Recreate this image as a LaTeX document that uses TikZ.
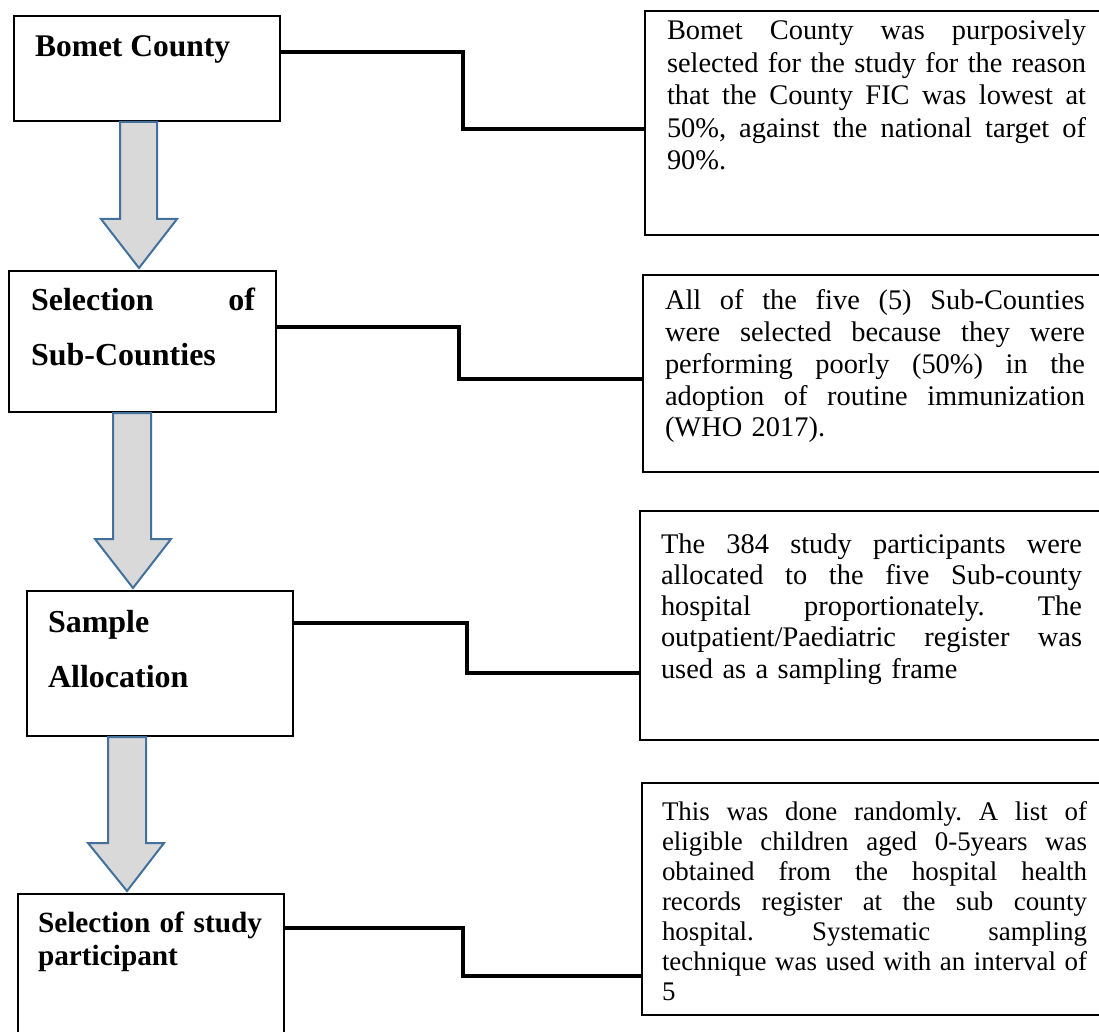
\documentclass[tikz,border=0pt]{standalone}
\usepackage{fontspec}
\setmainfont{Liberation Serif}
\usetikzlibrary{calc}
\definecolor{arrowfill}{RGB}{217,217,217}
\definecolor{arrowline}{RGB}{65,113,156}
\newcommand\jline[2]{\leavevmode\hbox to #1{#2}}
\newcommand\hf{\hfill}
\begin{document}
\begin{tikzpicture}[x=1pt,y=-1pt,
  box/.style={draw=black, line width=1.8pt, fill=white, inner sep=0pt, outer sep=0pt, anchor=north west, rectangle},
  txt/.style={anchor=north west, inner sep=0pt, outer sep=0pt, align=left},
  conn/.style={draw=black, line width=3.2pt, line join=miter},
  blockarrow/.style={fill=arrowfill, draw=arrowline, line width=2pt, line join=miter}]
\useasboundingbox (0,0) rectangle (1099,1032);
\clip (0,0) rectangle (1099,1032);
\fill[white] (0,0) rectangle (1099,1032);

% left boxes
\node[box, minimum width=266pt, minimum height=105pt] (b1) at (14,16) {};
\node[box, minimum width=267pt, minimum height=141pt] (b2) at (9,271) {};
\node[box, minimum width=266pt, minimum height=145pt] (b3) at (27,591) {};
\node[box, minimum width=266pt, minimum height=170pt] (b4) at (18,894) {};

% right boxes
\node[box, minimum width=470pt, minimum height=224pt] (r1) at (645,11) {};
\node[box, minimum width=470pt, minimum height=197pt] (r2) at (643,275) {};
\node[box, minimum width=470pt, minimum height=229pt] (r3) at (640,511) {};
\node[box, minimum width=470pt, minimum height=232pt] (r4) at (642,783) {};

% block arrows
\filldraw[blockarrow] (120,122) -- (120,219) -- (101,219) -- (139,268) -- (177,219) -- (157,219) -- (157,122) -- cycle;
\filldraw[blockarrow] (113,413) -- (113,539) -- (95,539) -- (133,588) -- (171,539) -- (151,539) -- (151,413) -- cycle;
\filldraw[blockarrow] (108,737) -- (108,843) -- (88,843) -- (127,891) -- (164,843) -- (146,843) -- (146,737) -- cycle;

% connectors
\draw[conn] (b1.east |- 0,52) -- (463,52) -- (463,129) -- (r1.west |- 0,129);
\draw[conn] (b2.east |- 0,327) -- (459,327) -- (459,379) -- (r2.west |- 0,379);
\draw[conn] (b3.east |- 0,623) -- (467,623) -- (467,673) -- (r3.west |- 0,673);
\draw[conn] (b4.east |- 0,928) -- (463,928) -- (463,976) -- (r4.west |- 0,976);

% left texts
\node[txt, font=\fontsize{31.5}{36}\selectfont\bfseries] (t1) at (35,31.8) {\strut Bomet County};
\node[txt, text width=224pt, font=\fontsize{32}{55}\selectfont\bfseries] (t2) at (31,271.5)
  {\noindent\strut\jline{224pt}{Selection\hf of}\\Sub-Counties};
\node[txt, text width=224pt, font=\fontsize{32}{55}\selectfont\bfseries] (t3) at (48,593.5)
  {\noindent\strut Sample\\Allocation};
\node[txt, text width=224pt, font=\fontsize{29.3}{33}\selectfont\bfseries] (t4) at (38,908.9)
  {\noindent\strut\jline{224pt}{Selection\hf of\hf study}\\participant};

% right texts
\node[txt, text width=419pt, font=\fontsize{28.4}{32.5}\selectfont] (u1) at (667,17.25)
  {\noindent\strut\jline{419pt}{Bomet\hf County\hf was\hf purposively}\\
   \jline{419pt}{selected\hf for\hf the\hf study\hf for\hf the\hf reason}\\
   \jline{419pt}{that\hf the\hf County\hf FIC\hf was\hf lowest\hf at}\\
   \jline{419pt}{50\%,\hf against\hf the\hf national\hf target\hf of}\\
   90\%.};
\node[txt, text width=420pt, font=\fontsize{28.4}{31.7}\selectfont] (u2) at (665,287.8)
  {\noindent\strut\jline{420pt}{All\hf of\hf the\hf five\hf (5)\hf Sub-Counties}\\
   \jline{420pt}{were\hf selected\hf because\hf they\hf were}\\
   \jline{420pt}{performing\hf poorly\hf (50\%)\hf in\hf the}\\
   \jline{420pt}{adoption\hf of\hf routine\hf immunization}\\
   (WHO 2017).};
\node[txt, text width=421pt, font=\fontsize{28.4}{31.3}\selectfont] (u3) at (661,531.1)
  {\noindent\strut\jline{421pt}{The\hf 384\hf study\hf participants\hf were}\\
   \jline{421pt}{allocated\hf to\hf the\hf five\hf Sub-county}\\
   \jline{421pt}{hospital\hf proportionately.\hf The}\\
   \jline{421pt}{outpatient/Paediatric\hf register\hf was}\\
   used as a sampling frame};
\node[txt, text width=426pt, font=\fontsize{26.9}{30}\selectfont] (u4) at (662,799)
  {\noindent\strut\jline{425pt}{This\hf was\hf done\hf randomly.\hf A\hf list\hf of}\\
   \jline{425pt}{eligible\hf children\hf aged\hf 0-5years\hf was}\\
   \jline{425pt}{obtained\hf from\hf the\hf hospital\hf health}\\
   \jline{425pt}{records\hf register\hf at\hf the\hf sub\hf county}\\
   \jline{425pt}{hospital.\hf Systematic\hf sampling}\\
   \jline{425pt}{technique\hf was\hf used\hf with\hf an\hf interval\hf of}\\
   5};
\end{tikzpicture}
\end{document}
